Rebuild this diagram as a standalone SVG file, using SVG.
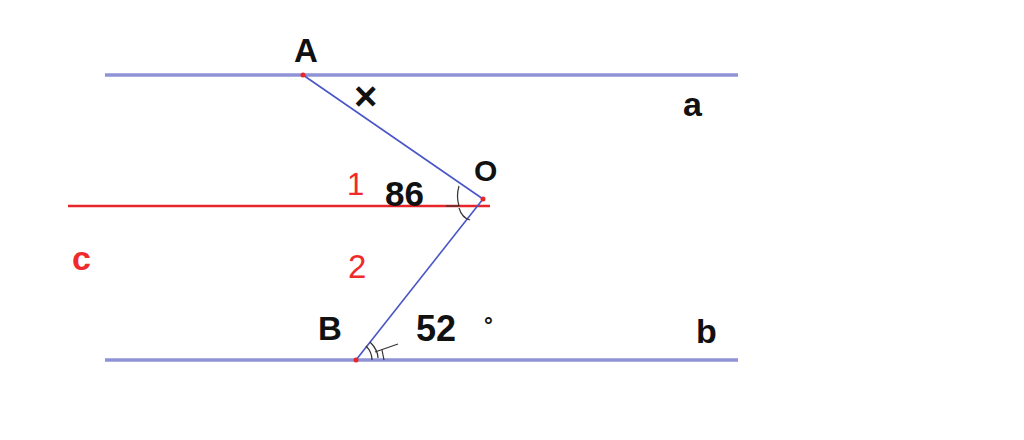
<svg xmlns="http://www.w3.org/2000/svg" width="1024" height="440" viewBox="0 0 1024 440">
<style>
.par{stroke:#8f93d6;stroke-width:3.5;fill:none}
.seg{stroke:#4a55c8;stroke-width:1.6;fill:none}
.red{stroke:#e8262a;stroke-width:2.5;fill:none}
.lbl{font-family:"Liberation Sans",Arial,sans-serif;font-weight:bold;fill:#111}
.rl{font-family:"Liberation Sans",Arial,sans-serif;fill:#f02a2a}
.mk{stroke:#333;stroke-width:1.2;fill:none}
</style>
<rect width="1024" height="440" fill="#fff"/>
<g id="connectors">
<line class="par" x1="105" y1="75" x2="738" y2="75"/>
<line class="par" x1="105" y1="360" x2="738" y2="360"/>
<line class="red" x1="68" y1="206" x2="490" y2="206"/>
<line class="seg" x1="303" y1="75" x2="483" y2="199"/>
<line class="seg" x1="483" y1="199" x2="356" y2="360"/>
</g>
<g id="marks">
<path class="mk" d="M459 186 Q456 196 459 206"/>
<path class="mk" d="M446 206 L459 206"/>
<path class="mk" d="M459 208 Q462 218 470 220"/>
<path class="mk" d="M366 346 Q372 352 372 360"/>
<path class="mk" d="M370 342 Q378 350 378 358"/>
<path class="mk" d="M375 352 L398 344"/>
<path class="mk" d="M382 350 L384 360"/>
</g>
<g id="A"><circle cx="303" cy="75" r="2.5" fill="#e8262a"/><text class="lbl" x="294" y="62" font-size="33">A</text></g>
<g id="O"><circle cx="483" cy="199" r="2.5" fill="#e8262a"/><text class="lbl" x="474" y="181" font-size="30">O</text></g>
<g id="B"><circle cx="356" cy="360" r="2.5" fill="#e8262a"/><text class="lbl" x="318" y="340" font-size="33">B</text></g>
<g id="labels">
<text class="lbl" x="354" y="110" font-size="40" font-weight="normal">×</text>
<text class="lbl" x="683" y="116" font-size="34">a</text>
<text class="lbl" x="696" y="343" font-size="34">b</text>
<text class="rl" x="72" y="270" font-size="34" font-weight="bold">c</text>
<text class="rl" x="347" y="195" font-size="31">1</text>
<text class="rl" x="348" y="278" font-size="33">2</text>
<text class="lbl" x="385" y="206" font-size="35">86</text>
<text class="lbl" x="416" y="341" font-size="36">52</text>
<text class="lbl" x="484" y="333" font-size="22">°</text>
</g>
</svg>
